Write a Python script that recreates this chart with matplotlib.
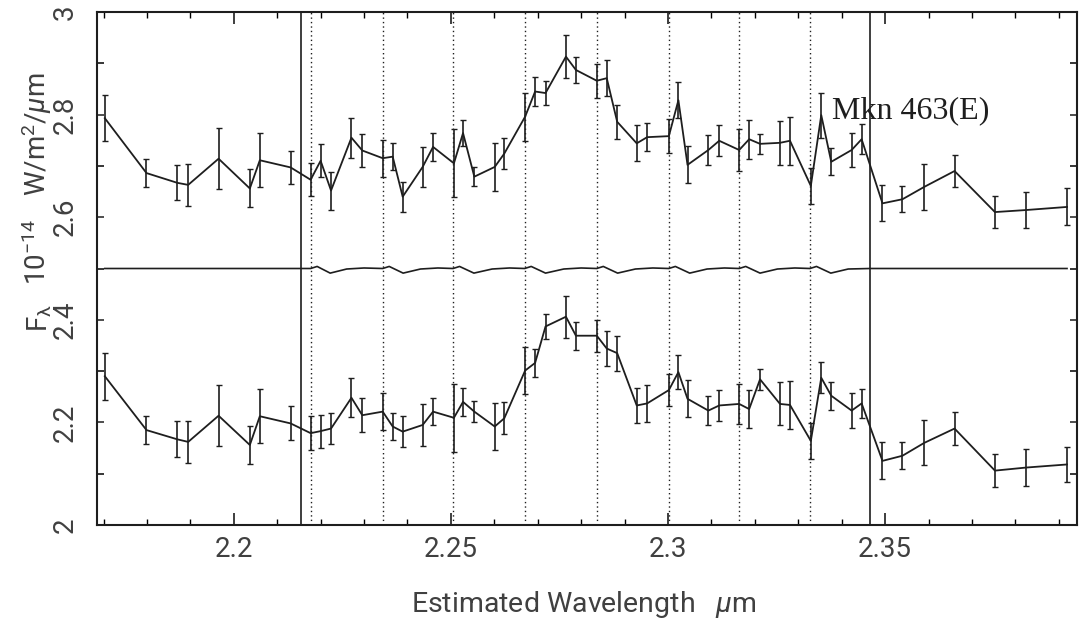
import matplotlib
matplotlib.use("Agg")
import matplotlib.pyplot as plt
from matplotlib.ticker import MultipleLocator, FixedLocator

# ---------------- data ----------------
wavelength = [2.1703, 2.1799, 2.1870, 2.1895, 2.1965, 2.2037, 2.2060, 2.2131,
              2.2177, 2.2200, 2.2224, 2.2271, 2.2296, 2.2343, 2.2366, 2.2389,
              2.2435, 2.2459, 2.2507, 2.2528, 2.2554, 2.2601, 2.2623, 2.2671,
              2.2694, 2.2718, 2.2765, 2.2788, 2.2836, 2.2859, 2.2883, 2.2928,
              2.2952, 2.3002, 2.3024, 2.3045, 2.3093, 2.3118, 2.3164, 2.3187,
              2.3212, 2.3258, 2.3281, 2.3329, 2.3353, 2.3376, 2.3423, 2.3446,
              2.3494, 2.3540, 2.3590, 2.3660, 2.3753, 2.3825, 2.3919]

flux_upper = [2.793, 2.686, 2.667, 2.663, 2.714, 2.656, 2.711, 2.697,
              2.673, 2.710, 2.652, 2.755, 2.730, 2.715, 2.718, 2.640,
              2.698, 2.737, 2.705, 2.764, 2.679, 2.698, 2.724, 2.796,
              2.845, 2.842, 2.913, 2.887, 2.866, 2.871, 2.786, 2.744,
              2.756, 2.758, 2.828, 2.702, 2.731, 2.749, 2.731, 2.752,
              2.743, 2.745, 2.749, 2.661, 2.799, 2.708, 2.731, 2.752,
              2.627, 2.635, 2.659, 2.690, 2.610, 2.614, 2.620]

err_upper = [0.045, 0.027, 0.034, 0.041, 0.060, 0.037, 0.053, 0.032,
             0.032, 0.032, 0.037, 0.039, 0.033, 0.036, 0.026, 0.029,
             0.039, 0.027, 0.066, 0.026, 0.019, 0.046, 0.030, 0.047,
             0.029, 0.024, 0.042, 0.026, 0.033, 0.035, 0.033, 0.035,
             0.027, 0.033, 0.035, 0.036, 0.029, 0.030, 0.040, 0.038,
             0.020, 0.043, 0.047, 0.035, 0.044, 0.026, 0.033, 0.029,
             0.035, 0.025, 0.044, 0.032, 0.031, 0.035, 0.036]

flux_lower = [2.290, 2.185, 2.167, 2.162, 2.213, 2.156, 2.212, 2.198,
              2.179, 2.183, 2.188, 2.248, 2.214, 2.221, 2.192, 2.182,
              2.195, 2.221, 2.209, 2.240, 2.221, 2.192, 2.208, 2.301,
              2.316, 2.387, 2.406, 2.369, 2.369, 2.344, 2.335, 2.233,
              2.237, 2.263, 2.298, 2.246, 2.223, 2.233, 2.236, 2.226,
              2.284, 2.236, 2.234, 2.164, 2.287, 2.252, 2.223, 2.237,
              2.125, 2.135, 2.160, 2.188, 2.106, 2.112, 2.118]

err_lower = [0.046, 0.028, 0.035, 0.041, 0.059, 0.037, 0.053, 0.033,
             0.033, 0.032, 0.031, 0.038, 0.033, 0.036, 0.026, 0.030,
             0.041, 0.027, 0.066, 0.027, 0.020, 0.045, 0.031, 0.046,
             0.028, 0.025, 0.041, 0.027, 0.031, 0.035, 0.034, 0.035,
             0.036, 0.032, 0.033, 0.036, 0.029, 0.030, 0.039, 0.037,
             0.021, 0.042, 0.046, 0.035, 0.030, 0.027, 0.034, 0.028,
             0.036, 0.026, 0.044, 0.032, 0.032, 0.036, 0.035]

residual_x = [2.1703, 2.2154,
              2.2177, 2.2192, 2.2222, 2.2260, 2.2300,
              2.2343, 2.2358, 2.2390, 2.2430, 2.2470,
              2.2505, 2.2520, 2.2553, 2.2595, 2.2635,
              2.2670, 2.2685, 2.2718, 2.2760, 2.2800,
              2.2836, 2.2851, 2.2884, 2.2925, 2.2965,
              2.3002, 2.3017, 2.3050, 2.3090, 2.3130,
              2.3164, 2.3179, 2.3212, 2.3252, 2.3292,
              2.3327, 2.3342, 2.3375, 2.3415, 2.3465, 2.3919]
residual_y = [2.500, 2.500,
              2.500, 2.504, 2.491, 2.499, 2.501,
              2.500, 2.504, 2.491, 2.499, 2.501,
              2.500, 2.504, 2.491, 2.499, 2.501,
              2.500, 2.504, 2.491, 2.499, 2.501,
              2.500, 2.504, 2.491, 2.499, 2.501,
              2.500, 2.504, 2.491, 2.499, 2.501,
              2.500, 2.504, 2.491, 2.499, 2.501,
              2.500, 2.504, 2.491, 2.499, 2.500, 2.500]

window_edges = [2.2154, 2.3465]
channel_lines = [2.2177, 2.2343, 2.2505, 2.2670, 2.2836, 2.3002, 2.3164, 2.3327]

label_text = "Mkn 463(E)"
x_tick_labels = ["2.2", "2.25", "2.3", "2.35"]
x_tick_pos = [2.20, 2.25, 2.30, 2.35]
y_tick_labels = ["2", "2.2", "2.4", "2.6", "2.8", "3"]
y_tick_pos = [2.0, 2.2, 2.4, 2.6, 2.8, 3.0]

# ---------------- style ----------------
FONT = ["Roboto", "DejaVu Sans"]
plt.rcParams["font.family"] = FONT
plt.rcParams["font.weight"] = "normal"
plt.rcParams["mathtext.fontset"] = "custom"
plt.rcParams["mathtext.rm"] = "Roboto"
plt.rcParams["mathtext.it"] = "Roboto:italic"
plt.rcParams["mathtext.default"] = "rm"

INK = "#1e1e1e"
TXT = "#404040"
W, H = 1083, 621
fig = plt.figure(figsize=(W / 100, H / 100), dpi=100)
fig.patch.set_facecolor("white")
ax = fig.add_axes([97 / W, 1 - 525 / H, (1077 - 97) / W, (525 - 12) / H])
ax.set_xlim(2.1685, 2.3942)
ax.set_ylim(2.0, 3.0)

for xv in channel_lines:
    ax.axvline(xv, color=INK, lw=1.0, ls=(0, (1, 2.2)), zorder=1)
for xv in window_edges:
    ax.axvline(xv, color=INK, lw=1.2, zorder=1)

ax.plot(residual_x, residual_y, color=INK, lw=1.2, zorder=2)

for fl, er in ((flux_upper, err_upper), (flux_lower, err_lower)):
    ax.errorbar(wavelength, fl, yerr=er, color=INK, lw=1.3, elinewidth=1.2,
                capsize=2, capthick=1.0, zorder=3)

ax.text(2.3377, 2.807, label_text, family="Liberation Serif", fontsize=23,
        color=INK, ha="left", va="center", zorder=4)

for sp in ax.spines.values():
    sp.set_linewidth(1.5)
    sp.set_color(INK)

ax.xaxis.set_major_locator(FixedLocator(x_tick_pos))
ax.set_xticklabels(x_tick_labels)
ax.xaxis.set_minor_locator(MultipleLocator(0.01))
ax.yaxis.set_major_locator(FixedLocator(y_tick_pos))
ax.set_yticklabels(y_tick_labels)
ax.yaxis.set_minor_locator(MultipleLocator(0.1))

ax.tick_params(axis="x", which="major", direction="in", length=8.5, width=1.2,
               top=True, bottom=True, labelsize=20, pad=8, colors=INK)
ax.tick_params(axis="x", which="minor", direction="in", length=4.5, width=1.0,
               top=True, bottom=True)
ax.tick_params(axis="y", which="both", direction="in", length=5, width=1.1,
               left=True, right=True)
ax.tick_params(axis="y", which="major", labelsize=20, pad=13, labelrotation=90,
               colors=INK)
for lab in ax.get_yticklabels():
    lab.set_verticalalignment("center")

for t in ax.get_xticklabels() + ax.get_yticklabels():
    t.set_color(TXT)

fig.text(584 / W, 1 - 604 / H, r"Estimated Wavelength   $\mathit{\mu}$m",
         ha="center", va="center", fontsize=20.5, color=TXT)

# rotated y-label in three pieces
ylab_kw = dict(rotation=90, rotation_mode="anchor", ha="center", va="baseline",
               fontsize=20, color=TXT)
fig.text(46 / W, 1 - 134 / H, r"W/m$^2$/$\mathit{\mu}$m", **ylab_kw)
fig.text(46 / W, 1 - 252 / H, r"10$^{-14}$", **ylab_kw)
fig.text(46 / W, 1 - 318 / H, r"F$_{\lambda}$", **ylab_kw)

fig.savefig("out.png", dpi=100, facecolor="white")
